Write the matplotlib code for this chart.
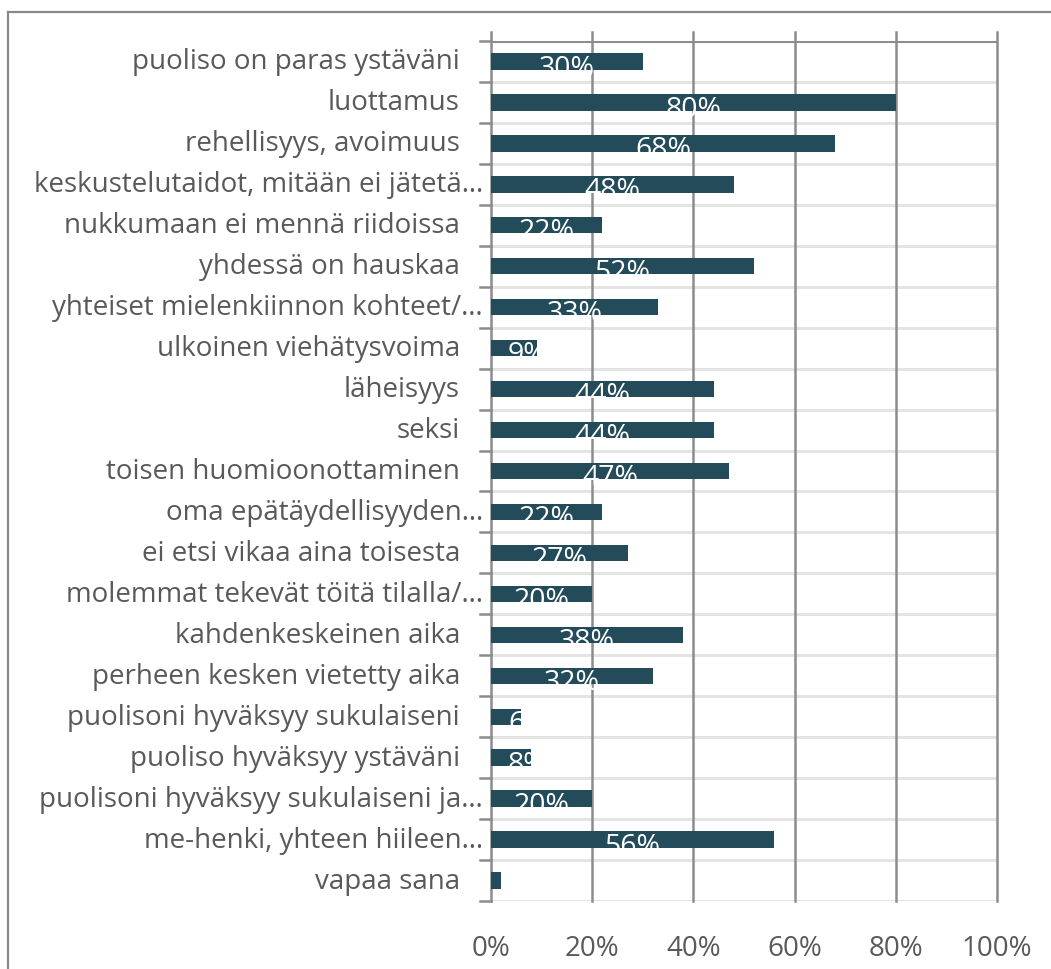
import matplotlib
matplotlib.use("Agg")
import matplotlib.pyplot as plt
from matplotlib.lines import Line2D

# Tekijät ja osuudet (luettu kuvasta)
kategoriat = [
    "puoliso on paras ystäväni",
    "luottamus",
    "rehellisyys, avoimuus",
    "keskustelutaidot, mitään ei jätetä…",
    "nukkumaan ei mennä riidoissa",
    "yhdessä on hauskaa",
    "yhteiset mielenkiinnon kohteet/…",
    "ulkoinen viehätysvoima",
    "läheisyys",
    "seksi",
    "toisen huomioonottaminen",
    "oma epätäydellisyyden…",
    "ei etsi vikaa aina toisesta",
    "molemmat tekevät töitä tilalla/…",
    "kahdenkeskeinen aika",
    "perheen kesken vietetty aika",
    "puolisoni hyväksyy sukulaiseni",
    "puoliso hyväksyy ystäväni",
    "puolisoni hyväksyy sukulaiseni ja…",
    "me-henki, yhteen hiileen…",
    "vapaa sana",
]
osuudet = [30, 80, 68, 48, 22, 52, 33, 9, 44, 44, 47, 22, 27, 20, 38, 32, 6, 8, 20, 56, 2]
x_tikit = [0, 20, 40, 60, 80, 100]

plt.rcParams['font.family'] = ['Open Sans', 'DejaVu Sans']

W, H = 1051, 970
fig = plt.figure(figsize=(W / 100, H / 100), dpi=100)
ax = fig.add_axes([491 / W, 1 - 902 / H, (997 - 491) / W, (902 - 42) / H])

vari = '#234B5A'
harmaa = '#8C8C8C'
vaalea = '#E4E4E4'
teksti = '#595959'

n = len(kategoriat)
y = list(range(n))
palkit = ax.barh(y, osuudet, height=0.4, color=vari, zorder=3)

ax.set_xlim(0, 100)
ax.set_ylim(n - 0.5, -0.5)
for s in ax.spines.values():
    s.set_visible(False)

# erottimet luokkien välissä
for i in range(n + 1):
    b = i - 0.5
    c = harmaa if i == 0 else vaalea
    ax.axhline(b, color=c, lw=2.2, zorder=1)
    # pienet tikit vasemmalla
    ax.plot([-11 / 506 * 100, 0], [b, b], color=harmaa, lw=1.8, clip_on=False, zorder=2)

# pystyviivat
for xv in x_tikit:
    ax.plot([xv, xv], [0, 1 + 9 / 860], transform=ax.get_xaxis_transform(),
            color=harmaa, lw=1.8, clip_on=False, zorder=2)

ax.set_xticks(x_tikit)
ax.set_xticklabels([f"{v}%" for v in x_tikit], fontsize=20, color=teksti)
ax.tick_params(axis='x', length=0, pad=24)
ax.set_yticks([])

# luokkien nimet
for i, k in enumerate(kategoriat):
    oikea = 483 if k.endswith("…") else 460
    ax.text((oikea - 491) / 506 * 100, i, k, ha='right', va='center',
            fontsize=20, color=teksti, clip_on=False)

# arvot palkkien sisään (leikattuna palkin muotoon)
tekstit = []
for i, (v, p) in enumerate(zip(osuudet, palkit)):
    t = ax.text(v / 2, i + 0.32, f"{v}%", ha='center', va='baseline',
                fontsize=20.5, color='white', zorder=4)
    t.set_clip_path(p)
    tekstit.append(t)

fig.canvas.draw()
r = fig.canvas.get_renderer()
x0 = ax.transData.transform((0, 0))[0]
for t in tekstit:
    bb = t.get_window_extent(r)
    if bb.x0 < x0 + 17:
        t.set_ha('left')
        t.set_x(17 / 506 * 100)

# ulkokehys
fig.add_artist(Line2D([8 / W, 8 / W], [0, 1 - 13 / H], color='#898989', lw=1.6))
fig.add_artist(Line2D([8 / W, 1], [1 - 13 / H, 1 - 13 / H], color='#898989', lw=1.6))

fig.savefig('out.png', dpi=100)
